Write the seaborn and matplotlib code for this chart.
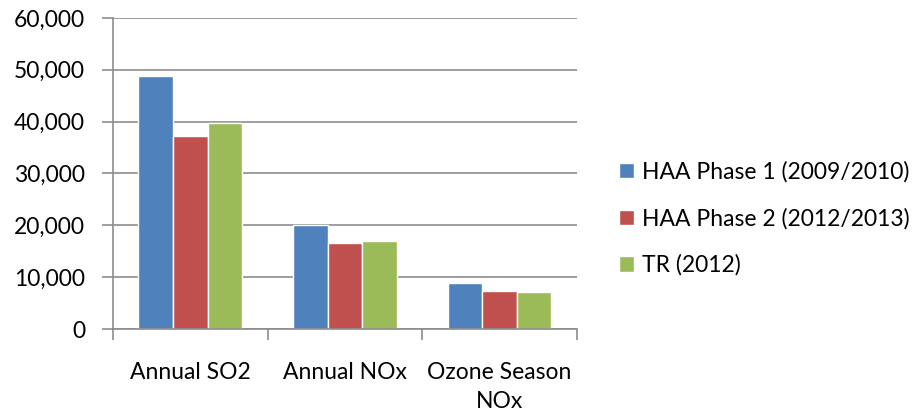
import pandas as pd
import matplotlib
matplotlib.use("Agg")
import matplotlib.pyplot as plt
from matplotlib.ticker import FuncFormatter, FixedLocator
import seaborn as sns

# Data
categories = ["Annual SO2", "Annual NOx", "Ozone Season\nNOx"]
series = ["HAA Phase 1 (2009/2010)", "HAA Phase 2 (2012/2013)", "TR (2012)"]
phase1 = [48700, 20100, 8800]
phase2 = [37200, 16600, 7300]
tr2012 = [39700, 16900, 7200]
colors = ["#4F81BD", "#C0504D", "#9BBB59"]

rows = []
for name, vals in zip(series, [phase1, phase2, tr2012]):
    for cat, v in zip(categories, vals):
        rows.append({"Category": cat, "Series": name, "Value": v})
df = pd.DataFrame(rows)

sns.set_style("white")
plt.rcParams['font.family'] = ['Lato', 'DejaVu Sans']
plt.rcParams['text.color'] = 'black'
plt.rcParams['xtick.labelcolor'] = 'black'
plt.rcParams['ytick.labelcolor'] = 'black'

fig = plt.figure(figsize=(9.18, 4.16), dpi=100)
ax = fig.add_axes([0.123, 0.209, 0.5055, 0.748])

sns.barplot(data=df, x="Category", y="Value", hue="Series",
            palette=colors, width=0.67, ax=ax, saturation=1)

ax.set_ylim(0, 60000)
ax.set_xlim(-0.5, 2.5)
ax.yaxis.set_major_locator(FixedLocator(range(0, 60001, 10000)))
ax.yaxis.set_major_formatter(FuncFormatter(lambda v, p: f"{int(v):,}"))
ax.grid(axis="y", color="#8c8c8c", linewidth=1.2)
ax.set_axisbelow(True)

for s in ["top", "right"]:
    ax.spines[s].set_visible(False)
for s in ["left", "bottom"]:
    ax.spines[s].set_color("#8c8c8c")
    ax.spines[s].set_linewidth(1.2)

ax.set_xlabel("")
ax.set_ylabel("")
ax.tick_params(axis="y", which="major", length=8, width=1.2, color="#8c8c8c",
               direction="out", labelsize=16.5, pad=12, left=True)
ax.tick_params(axis="x", which="major", length=0, labelsize=16.5, pad=24)
ax.set_xticks(range(len(categories)))
ax.set_xticklabels(categories, linespacing=1.45)
ax.xaxis.set_minor_locator(FixedLocator([-0.5, 0.5, 1.5, 2.5]))
ax.tick_params(axis="x", which="minor", length=8, width=1.2, color="#8c8c8c",
               direction="out", bottom=True)

handles, labels = ax.get_legend_handles_labels()
ax.legend(handles, labels, loc="center left", bbox_to_anchor=(1.047, 0.355),
          frameon=False, fontsize=16.5, handlelength=0.65, handleheight=0.65,
          handletextpad=0.35, labelspacing=1.1)

fig.savefig("out.png", dpi=100)
